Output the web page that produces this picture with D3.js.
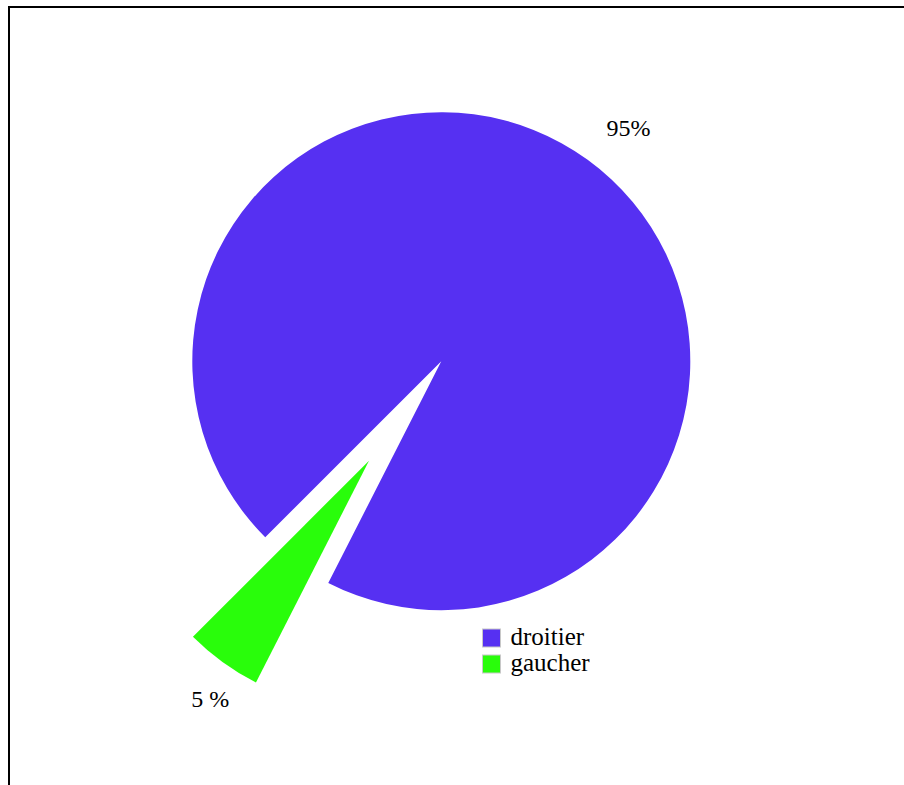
<!DOCTYPE html>
<html>
<head>
<meta charset="utf-8">
<script src="https://cdn.jsdelivr.net/npm/d3@7"></script>
<style>
  html, body { margin: 0; padding: 0; background: #fff; overflow: hidden; }
  svg { display: block; }
  text { font-family: "Liberation Serif", "Times New Roman", serif; fill: #000; }
</style>
</head>
<body>
<script>
// Handedness split
const categories = ["droitier", "gaucher"];
const values = [95, 5];
const valueLabels = ["95%", "5 %"];
const colors = ["#5630f2", "#29fd0b"];
// slices pulled away from the centre (px)
const explode = [0, 123];
// small angular nudge for each percentage label (degrees)
const labelNudge = [3.7, -3.2];

const W = 904, H = 785;
const cx = 441.3, cy = 361.2, radius = 249, labelRadius = 293;

const svg = d3.select("body").append("svg")
  .attr("width", W).attr("height", H);

// outer frame
svg.append("rect")
  .attr("x", 9).attr("y", 7)
  .attr("width", 1200).attr("height", 1200)
  .attr("fill", "none").attr("stroke", "#000").attr("stroke-width", 2);

const data = categories.map((c, i) => ({ name: c, value: values[i], label: valueLabels[i], color: colors[i], off: explode[i], nudge: labelNudge[i] }));

const start = Math.PI * 5 / 4;
const pie = d3.pie().sort(null).value(d => d.value)
  .startAngle(start).endAngle(start + 2 * Math.PI);
const arcs = pie(data);

const arc = d3.arc().innerRadius(0).outerRadius(radius);

const g = svg.append("g").attr("transform", `translate(${cx},${cy})`);

function offset(d) {
  const mid = (d.startAngle + d.endAngle) / 2;
  return [Math.sin(mid) * d.data.off, -Math.cos(mid) * d.data.off];
}

const slice = g.selectAll("g.slice").data(arcs).join("g")
  .attr("class", "slice")
  .attr("transform", d => { const [x, y] = offset(d); return `translate(${x},${y})`; });

slice.append("path")
  .attr("d", arc)
  .attr("fill", d => d.data.color);

slice.append("text")
  .attr("text-anchor", "middle")
  .attr("font-size", 24)
  .attr("x", d => { const a = (d.startAngle + d.endAngle) / 2 + d.data.nudge * Math.PI / 180; return Math.sin(a) * labelRadius; })
  .attr("y", d => { const a = (d.startAngle + d.endAngle) / 2 + d.data.nudge * Math.PI / 180; return -Math.cos(a) * labelRadius; })
  .text(d => d.data.label);

// legend
const legend = svg.append("g").attr("transform", "translate(482.5,629)");
const item = legend.selectAll("g").data(data).join("g")
  .attr("transform", (d, i) => `translate(0,${i * 26})`);
item.append("rect")
  .attr("width", 18).attr("height", 18)
  .attr("fill", d => d.color)
  .attr("stroke", "#c8c8c8").attr("stroke-width", 1);
item.append("text")
  .attr("x", 28).attr("y", 16)
  .attr("font-size", 25)
  .text(d => d.name);
</script>
</body>
</html>
